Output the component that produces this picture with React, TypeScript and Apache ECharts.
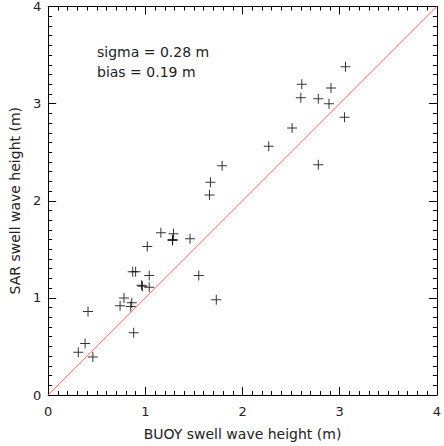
import React, { useEffect, useRef } from "react";
import * as echarts from "echarts";

const buoyHeights: number[] = [
  3.06, 2.61, 2.60, 2.78, 2.91, 2.89, 3.05, 2.51, 2.27,
  2.78, 1.79, 1.67, 1.66,
  1.16, 1.29, 1.28, 1.28, 1.46, 1.02, 0.87, 0.90, 1.04, 1.55, 0.96, 0.97, 1.04,
  0.78, 1.73, 0.74, 0.86, 0.85, 0.41, 0.88, 0.38, 0.31, 0.46,
];
const sarHeights: number[] = [
  3.38, 3.20, 3.06, 3.05, 3.16, 3.00, 2.86, 2.75, 2.56,
  2.37, 2.36, 2.19, 2.06,
  1.67, 1.66, 1.59, 1.60, 1.61, 1.53, 1.27, 1.27, 1.23, 1.23, 1.13, 1.12, 1.11,
  1.00, 0.98, 0.92, 0.95, 0.91, 0.86, 0.64, 0.53, 0.44, 0.39,
];
const oneToOne: number[][] = [[0, 0], [4, 4]];
const statLines: string[] = ["sigma = 0.28 m", "bias = 0.19 m"];
const xName = "BUOY swell wave height (m)";
const yName = "SAR swell wave height (m)";

const FONT = "DejaVu Sans";
const PLUS = "path://M4.5,0h1v10h-1z M0,4.5h10v1h-10z";

export default function App() {
  const ref = useRef<HTMLDivElement>(null);
  useEffect(() => {
    if (!ref.current) return;
    const chart = echarts.init(ref.current, undefined, { renderer: "svg" });
    const points = buoyHeights.map((x, i) => [x, sarHeights[i]]);
    const axisCommon = {
      type: "value" as const,
      min: 0,
      max: 4,
      interval: 1,
      axisLine: { show: true, onZero: false, lineStyle: { color: "#000", width: 1 } },
      axisTick: { show: true, inside: true, length: 8, lineStyle: { color: "#000" } },
      minorTick: { show: true, splitNumber: 10, length: 4, lineStyle: { color: "#000" } },
      splitLine: { show: false },
    };
    const labelStyle = { color: "#222", fontFamily: FONT, fontSize: 13 };
    chart.setOption({
      animation: false,
      backgroundColor: "#fff",
      grid: { left: 48, right: 4, top: 6, bottom: 48 },
      xAxis: [
        {
          ...axisCommon,
          position: "bottom",
          name: xName,
          nameLocation: "middle",
          nameGap: 32,
          nameTextStyle: { color: "#222", fontFamily: FONT, fontSize: 14 },
          axisLabel: { ...labelStyle, margin: 10 },
        },
        { ...axisCommon, position: "top", axisLabel: { show: false } },
      ],
      yAxis: [
        {
          ...axisCommon,
          position: "left",
          name: yName,
          nameLocation: "middle",
          nameGap: 24,
          nameTextStyle: { color: "#222", fontFamily: FONT, fontSize: 14 },
          axisLabel: { ...labelStyle, margin: 7 },
        },
        { ...axisCommon, position: "right", axisLabel: { show: false } },
      ],
      graphic: statLines.map((t, i) => ({
        type: "text",
        left: 97,
        top: 45 + i * 20,
        style: { text: t, fill: "#222", font: `14px "${FONT}"` },
      })),
      series: [
        {
          type: "line",
          data: oneToOne,
          symbol: "none",
          lineStyle: { color: "#ff6464", width: 1 },
          silent: true,
          z: 1,
        },
        {
          type: "scatter",
          data: points,
          symbol: PLUS,
          symbolSize: 10,
          itemStyle: { color: "#000" },
          z: 2,
        },
      ],
    });
    return () => chart.dispose();
  }, []);
  return (
    <div
      ref={ref}
      style={{ position: "fixed", left: 0, top: 0, width: 444, height: 446 }}
    />
  );
}
